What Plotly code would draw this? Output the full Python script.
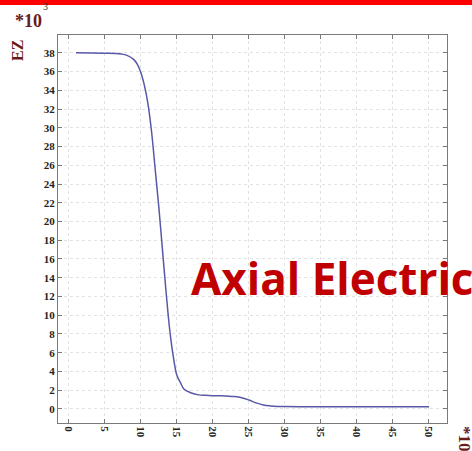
import plotly.graph_objects as go

# Data (EZ in units of 10^3)
pos = [1, 3, 5, 7, 8, 9, 9.5, 10, 10.5, 11, 11.5, 12, 12.5, 13, 13.5, 14, 14.5,
       15, 15.5, 16, 17, 18, 19, 20, 21, 22, 23, 24, 25, 26, 27, 28, 29, 30,
       32, 35, 40, 45, 50]
ez = [38, 37.98, 37.95, 37.9, 37.75, 37.3, 36.8, 35.9, 34.5, 32.5, 29.5, 25.5,
      21.5, 17, 12.5, 8.5, 5.6, 3.6, 2.8, 2.1, 1.7, 1.5, 1.45, 1.42, 1.4, 1.37,
      1.32, 1.2, 0.95, 0.65, 0.42, 0.32, 0.27, 0.25, 0.24, 0.23, 0.23, 0.23, 0.23]
x_ticks = list(range(0, 51, 5))
y_ticks = list(range(0, 39, 2))

W, H = 472, 451
L, R, T, B = 58, 447, 35, 423

def px(x):
    return (x - L) / (R - L)

def py(y):
    return (B - y) / (B - T)

fig = go.Figure()
fig.add_trace(go.Scatter(x=pos, y=ez, mode="lines", line=dict(color="#5858a8", width=1.5, shape="spline"),
                         hoverinfo="skip", showlegend=False))

axis_common = dict(showline=True, linecolor="#7a7a7a", linewidth=1, mirror="ticks",
                   ticks="inside", ticklen=4, tickcolor="#7a7a7a",
                   showgrid=True, gridcolor="#e2e2e2", griddash="dot", gridwidth=1,
                   zeroline=False,
                   tickfont=dict(family="Liberation Serif", size=11, color="#222222", weight="bold"))

fig.update_xaxes(range=[-1.5, 52.5], tickvals=x_ticks, tickangle=90, **axis_common)
fig.update_yaxes(range=[-1.5, 39.9], tickvals=y_ticks, **axis_common)

fig.update_layout(width=W, height=H, margin=dict(l=L, r=W - R, t=T, b=H - B, autoexpand=False),
                  paper_bgcolor="white", plot_bgcolor="white")

fig.add_shape(type="rect", xref="paper", yref="paper", x0=px(0) - 0.01, x1=px(W) + 0.01,
              y0=py(5), y1=py(-2), fillcolor="#ff0000", line_width=0, layer="above")

def label(x, y, text, size, color, angle=0, family="Liberation Serif", xanchor="center"):
    fig.add_annotation(xref="paper", yref="paper", x=px(x), y=py(y), text=text, textangle=angle,
                       xanchor=xanchor, yanchor="middle", showarrow=False,
                       font=dict(family=family, size=size, color=color))

label(28, 21, "<b>*10</b>", 18, "#6b1a1a")
label(45, 6, "3", 10, "#333333")
label(18, 51, "<b>EZ</b>", 16, "#6b1a1a", angle=-90)
label(465, 439, "<b>*10</b>", 17, "#6b1a1a", angle=90)
label(189, 278, "<b>Axial Electric</b>", 44, "#c00000", family="Open Sans", xanchor="left")

fig.write_html("out.html")
